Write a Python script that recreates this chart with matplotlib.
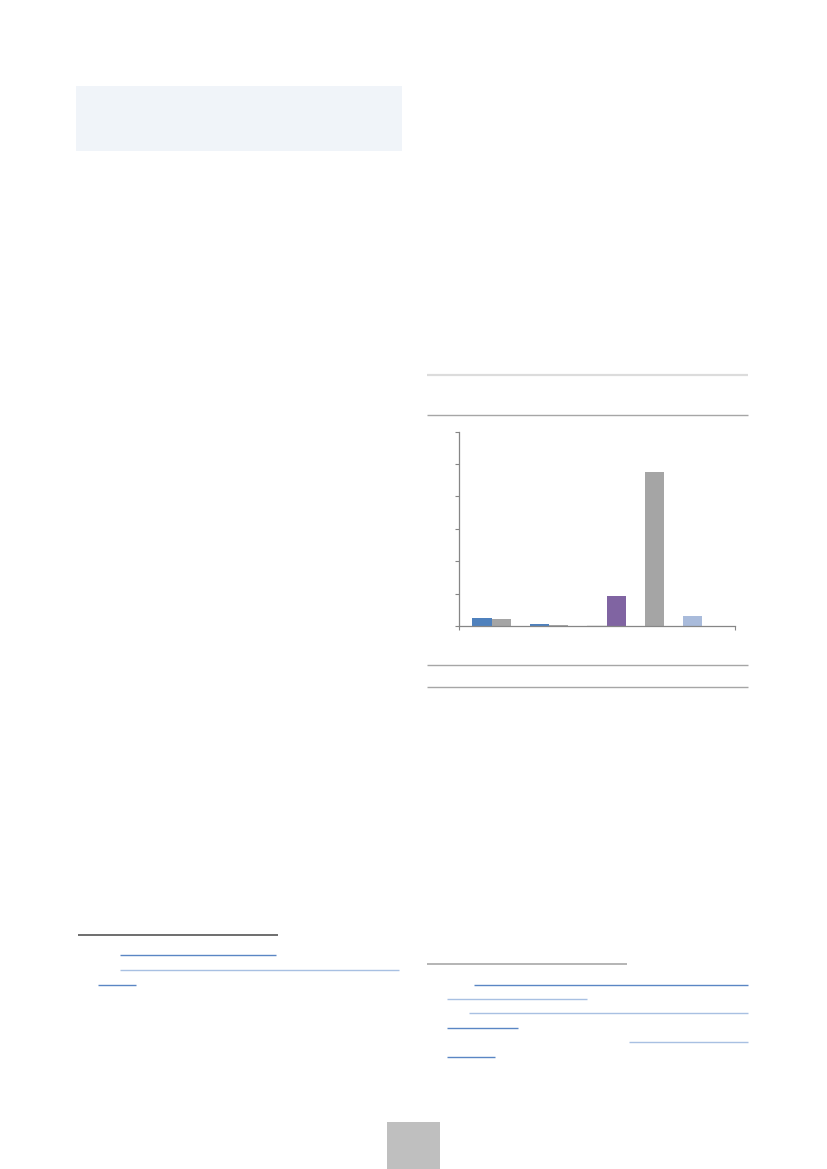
import matplotlib
matplotlib.use("Agg")
import matplotlib.pyplot as plt
from matplotlib.patches import Rectangle
import numpy as np

# chart data (no labels visible in the source; values in axis units, ticks every 10)
group_values = [
    [2.5, 2.2],
    [0.7, 0.4],
    [0.3, 9.2],
    [47.6],
    [3.0],
]
group_colors = [
    ["#4f81bd", "#a5a5a5"],
    ["#4f81bd", "#a5a5a5"],
    ["#ececec", "#8064a2"],
    ["#a5a5a5"],
    ["#a9bbdb"],
]
y_ticks = [0, 10, 20, 30, 40, 50, 60]

W, H = 827, 1169
fig = plt.figure(figsize=(W / 100, H / 100), dpi=100)

# page layer in pixel coordinates
page = fig.add_axes([0, 0, 1, 1], zorder=0)
page.set_xlim(0, W)
page.set_ylim(H, 0)
page.axis("off")

page.add_patch(Rectangle((76, 86), 326, 65, facecolor="#f0f4f9", edgecolor="none"))
page.add_patch(Rectangle((387, 1122), 53, 50, facecolor="#bfbfbf", edgecolor="none"))


def hline(y, x0, x1, color, lw):
    page.plot([x0, x1], [y, y], color=color, lw=lw, solid_capstyle="butt")


# chart frame rules
hline(374.5, 427, 748, "#dcdcdc", 1.6)
hline(415, 427, 748, "#a6a6a6", 1.0)
hline(665, 427, 748, "#a6a6a6", 1.0)
hline(687, 427, 748, "#a6a6a6", 1.0)

# footnote separators and link underlines
dark_link = "#5a86c4"
light_link = "#a8c0e2"
hline(935, 78, 278, "#555555", 1.2)
hline(955, 120, 276, dark_link, 1.0)
hline(970, 120, 399, light_link, 1.0)
hline(984.5, 98, 136, dark_link, 1.0)

hline(964, 427, 627, "#a8a8a8", 1.2)
hline(984.5, 474, 748, dark_link, 1.0)
hline(999, 447, 587, light_link, 1.0)
hline(1013, 469, 748, light_link, 1.0)
hline(1027.5, 447, 518, dark_link, 1.0)
hline(1042, 629, 748, light_link, 1.0)
hline(1056.5, 447, 495, dark_link, 1.0)

# bar chart
left, right, top, bottom = 459, 735, 431.7, 626
ax = fig.add_axes([left / W, 1 - bottom / H, (right - left) / W, (bottom - top) / H], zorder=1)
ax.patch.set_alpha(0)

bar_w = 1.0
pos = 0.7
xs, hs, cs = [], [], []
for vals, cols in zip(group_values, group_colors):
    for v, c in zip(vals, cols):
        xs.append(pos)
        hs.append(v)
        cs.append(c)
        pos += bar_w
    pos += bar_w  # gap between groups
ax.bar(xs, hs, width=bar_w, align="edge", color=cs, edgecolor="none")

ax.set_xlim(0, 14.4)
ax.set_ylim(y_ticks[0], y_ticks[-1])
ax.set_yticks(y_ticks)
ax.set_xticks([0, 14.4])
ax.tick_params(axis="both", direction="out", length=3, width=0.8, color="#868686",
               labelleft=False, labelbottom=False)
for s in ["top", "right"]:
    ax.spines[s].set_visible(False)
for s in ["left", "bottom"]:
    ax.spines[s].set_color("#868686")
    ax.spines[s].set_linewidth(0.9)

fig.savefig("out.png", dpi=100)
